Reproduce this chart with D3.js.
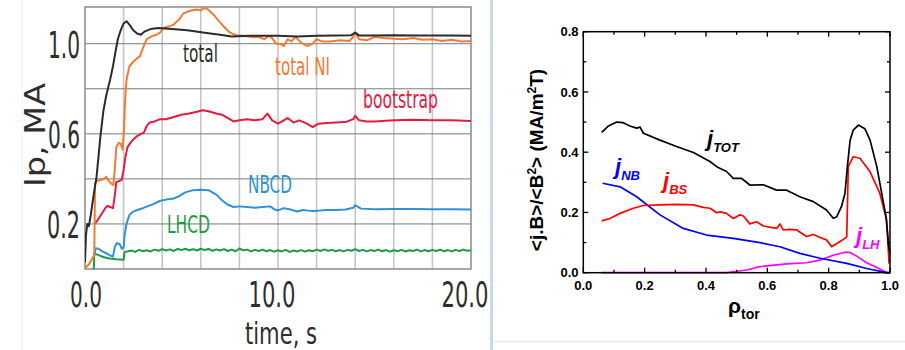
<!DOCTYPE html>
<html><head><meta charset="utf-8">
<script src="https://cdn.jsdelivr.net/npm/d3@7"></script>
<style>body{margin:0;background:#fff;} svg{display:block}</style>
</head><body>
<svg id="c" width="905" height="350"></svg>
<script>
// ---------- LEFT PANEL DATA (time, s  vs  Ip, MA) ----------
const leftXTicks = [0, 10, 20];
const leftYTicks = [0.2, 0.6, 1.0];
const leftXGrid = [2, 4, 6, 8, 10, 12, 14, 16, 18];
const leftYGrid = [0.2, 0.4, 0.6, 0.8, 1.0];
const leftLabels = ["total", "total NI", "bootstrap", "NBCD", "LHCD"];

const totalT = [0,0.05,0.12,0.2,0.3,0.45,0.6,0.8,0.95,1.1,1.3,1.45,1.55,1.7,1.85,2.0,2.15,2.3,2.5,2.7,2.9,3.1,3.4,3.8,4.5,5.3,6.3,7.0,7.6,8.5,10,11,12,13,13.8,14.0,14.2,15,16,17,18,19,20];
const totalV = [0.03,0.15,0.2,0.19,0.24,0.33,0.41,0.59,0.70,0.77,0.84,0.90,0.95,1.02,1.06,1.09,1.10,1.085,1.06,1.045,1.04,1.055,1.065,1.07,1.065,1.06,1.048,1.04,1.032,1.035,1.035,1.032,1.035,1.036,1.038,1.05,1.037,1.036,1.038,1.037,1.036,1.036,1.035];

const niT = [0,0.2,0.4,0.48,0.52,0.6,0.8,1.0,1.1,1.2,1.35,1.47,1.55,1.62,1.75,1.85,1.95,2.02,2.08,2.15,2.3,2.5,2.7,2.85,3.0,3.2,3.5,3.7,3.9,4.05,4.3,4.6,4.9,5.1,5.4,5.8,6.0,6.2,6.4,6.65,6.9,7.2,7.5,7.8,8.2,8.6,9.0,9.3,9.5,9.7,9.9,10.1,10.3,10.5,10.7,10.9,11.2,11.5,11.8,12.0,12.3,12.7,13.2,13.7,13.9,14.0,14.2,14.6,15,15.5,16,16.5,17,17.5,18,18.5,19,19.5,20];
const niV = [0.005,0.02,0.05,0.06,0.38,0.39,0.395,0.40,0.41,0.395,0.38,0.372,0.45,0.54,0.56,0.555,0.53,0.62,0.75,0.84,0.90,0.92,0.935,0.945,0.98,1.02,1.035,1.04,1.05,1.07,1.075,1.085,1.11,1.135,1.145,1.152,1.148,1.16,1.15,1.13,1.105,1.075,1.05,1.038,1.035,1.03,1.03,1.02,1.035,1.025,1.0,1.0,0.99,1.02,1.01,1.03,1.005,0.99,1.0,1.02,1.01,1.01,1.015,1.012,1.03,1.05,1.02,1.015,1.03,1.025,1.022,1.02,1.025,1.018,1.02,1.012,1.018,1.01,1.012];

const bsT = [0.5,0.6,0.75,0.9,1.05,1.15,1.3,1.45,1.55,1.62,1.75,1.9,2.0,2.1,2.2,2.35,2.5,2.7,2.9,3.05,3.2,3.35,3.6,3.9,4.2,4.6,5.0,5.4,5.8,6.1,6.4,6.8,7.1,7.4,7.7,8.0,8.4,8.8,9.2,9.45,9.7,10.0,10.3,10.5,10.8,11.1,11.5,11.8,12.1,12.5,13,13.5,13.9,14.0,14.2,14.6,15,16,17,18,19,20];
const bsV = [0.20,0.21,0.23,0.25,0.27,0.28,0.275,0.27,0.33,0.385,0.39,0.395,0.44,0.50,0.54,0.56,0.575,0.59,0.60,0.605,0.635,0.65,0.655,0.665,0.665,0.675,0.685,0.69,0.698,0.705,0.70,0.69,0.685,0.67,0.655,0.66,0.665,0.66,0.665,0.69,0.66,0.645,0.66,0.67,0.65,0.66,0.645,0.63,0.645,0.648,0.65,0.652,0.665,0.68,0.66,0.655,0.655,0.66,0.662,0.66,0.66,0.657];

const nbT = [0.5,0.55,0.7,0.9,1.1,1.3,1.45,1.55,1.65,1.8,1.9,2.0,2.05,2.15,2.3,2.5,2.7,3.0,3.3,3.6,3.9,4.2,4.6,4.9,5.2,5.6,6.0,6.4,6.8,7.1,7.4,7.7,8.0,8.4,8.8,9.2,9.6,9.8,10.0,10.3,10.6,11.0,11.3,11.7,12.0,12.5,13,13.5,13.9,14.0,14.3,15,16,17,18,19,20];
const nbV = [0.06,0.092,0.09,0.078,0.07,0.06,0.055,0.10,0.115,0.11,0.09,0.095,0.15,0.20,0.24,0.255,0.262,0.27,0.28,0.29,0.303,0.308,0.313,0.325,0.34,0.35,0.352,0.35,0.33,0.305,0.285,0.275,0.278,0.275,0.272,0.275,0.278,0.265,0.26,0.27,0.265,0.255,0.262,0.258,0.258,0.262,0.262,0.264,0.272,0.283,0.268,0.265,0.266,0.266,0.265,0.265,0.264];

const lhT = [0.4,0.46,0.48,0.6,0.8,1.0,1.2,1.4,1.6,1.8,2.0,2.05,2.2,2.4,2.6,2.8,3.0,3.2,3.4,3.6,3.8,4.0,4.2,4.4,4.6,4.8,5.0,5.2,5.4,5.6,5.8,6.0,6.2,6.4,6.6,6.8,7.0,7.2,7.4,7.6,7.8,8.0,8.2,8.4,8.6,8.8,9.0,9.2,9.4,9.6,9.8,10.0,10.2,10.4,10.6,10.8,11.0,11.2,11.4,11.6,11.8,12.0,12.2,12.4,12.6,12.8,13.0,13.2,13.4,13.6,13.8,14.0,14.2,14.4,14.6,14.8,15.0,15.2,15.4,15.6,15.8,16.0,16.2,16.4,16.6,16.8,17.0,17.2,17.4,17.6,17.8,18.0,18.2,18.4,18.6,18.8,19.0,19.2,19.4,19.6,19.8,20.0];
const lhV = [0.0,0.0,0.07,0.065,0.058,0.052,0.048,0.045,0.043,0.042,0.041,0.075,0.078,0.082,0.076,0.085,0.079,0.083,0.078,0.086,0.081,0.088,0.082,0.087,0.080,0.089,0.084,0.09,0.083,0.088,0.082,0.09,0.084,0.089,0.081,0.087,0.082,0.088,0.080,0.086,0.079,0.091,0.083,0.086,0.078,0.085,0.08,0.086,0.079,0.084,0.077,0.083,0.078,0.085,0.076,0.082,0.078,0.084,0.077,0.083,0.079,0.086,0.08,0.087,0.081,0.085,0.079,0.084,0.078,0.085,0.081,0.088,0.08,0.085,0.078,0.084,0.08,0.086,0.079,0.084,0.077,0.083,0.079,0.085,0.078,0.083,0.08,0.086,0.078,0.084,0.079,0.085,0.08,0.086,0.079,0.084,0.078,0.085,0.08,0.086,0.081,0.083];

// ---------- RIGHT PANEL DATA (rho_tor vs <j.B>/<B^2>) ----------
const rightXTicks = [0, 0.2, 0.4, 0.6, 0.8, 1.0];
const rightYTicks = [0, 0.2, 0.4, 0.6, 0.8];
const rightXMinor = [0.1, 0.3, 0.5, 0.7, 0.9];
const rightYMinor = [0.1, 0.3, 0.5, 0.7];

const totRho = [0.06,0.082,0.109,0.13,0.152,0.174,0.185,0.196,0.25,0.304,0.359,0.413,0.435,0.467,0.489,0.516,0.543,0.587,0.63,0.663,0.706,0.75,0.793,0.815,0.826,0.842,0.853,0.861,0.87,0.88,0.897,0.918,0.935,0.957,0.973,0.987,0.995,1.0];
const totVal = [0.466,0.487,0.5,0.498,0.487,0.48,0.483,0.463,0.44,0.419,0.399,0.369,0.352,0.336,0.313,0.313,0.291,0.292,0.274,0.274,0.252,0.236,0.208,0.181,0.185,0.22,0.263,0.352,0.44,0.473,0.49,0.478,0.44,0.352,0.263,0.186,0.097,0.06];

const bsRho = [0.06,0.087,0.12,0.163,0.196,0.25,0.304,0.359,0.391,0.413,0.435,0.446,0.467,0.489,0.511,0.522,0.543,0.565,0.587,0.63,0.641,0.652,0.674,0.696,0.728,0.75,0.772,0.793,0.81,0.832,0.853,0.859,0.864,0.88,0.902,0.935,0.967,0.989,0.997];
const bsVal = [0.172,0.18,0.197,0.214,0.223,0.225,0.227,0.225,0.217,0.214,0.199,0.202,0.197,0.18,0.192,0.188,0.162,0.169,0.155,0.147,0.162,0.142,0.144,0.142,0.12,0.127,0.117,0.109,0.086,0.1,0.114,0.12,0.352,0.385,0.38,0.335,0.263,0.175,0.03];

const nbRho = [0.063,0.12,0.174,0.25,0.326,0.402,0.489,0.576,0.641,0.706,0.772,0.859,0.924,0.989,1.0];
const nbVal = [0.297,0.285,0.252,0.192,0.147,0.125,0.114,0.1,0.086,0.064,0.048,0.031,0.014,0.0,0.0];

const lhRho = [0.06,0.467,0.533,0.576,0.663,0.728,0.772,0.815,0.853,0.87,0.891,0.924,0.957,0.984,0.995,1.0];
const lhVal = [0.0,0.0,0.009,0.02,0.029,0.033,0.042,0.058,0.068,0.067,0.055,0.033,0.017,0.003,0.0,0.0];

// ---------- DRAW ----------
const svg = d3.select("#c");
svg.append("rect").attr("width",905).attr("height",350).attr("fill","#fff");

// decorations (panel separators)
svg.append("line").attr("x1",22).attr("x2",22).attr("y1",0).attr("y2",350).attr("stroke","#f0f0f0").attr("stroke-width",1);
svg.append("line").attr("x1",491.5).attr("x2",491.5).attr("y1",0).attr("y2",350).attr("stroke","#c9d8ea").attr("stroke-width",3);
svg.append("line").attr("x1",494).attr("x2",905).attr("y1",341.5).attr("y2",341.5).attr("stroke","#dde7f1").attr("stroke-width",1.5);

// ===== LEFT =====
const xL = d3.scaleLinear().domain([0,20]).range([85,471]);
const yL = d3.scaleLinear().domain([0,1.163]).range([269,7]);
const condFont = "'Liberation Sans Narrow','DejaVu Sans Condensed','Open Sans',sans-serif";

const gL = svg.append("g");
gL.selectAll(".vg").data(leftXGrid).join("line")
  .attr("x1",d=>xL(d)).attr("x2",d=>xL(d)).attr("y1",yL.range()[1]).attr("y2",yL.range()[0])
  .attr("stroke","#c6c6c6").attr("stroke-width",1.6);
gL.selectAll(".hg").data(leftYGrid).join("line")
  .attr("x1",xL.range()[0]).attr("x2",xL.range()[1]).attr("y1",d=>yL(d)).attr("y2",d=>yL(d))
  .attr("stroke","#7a7a7a").attr("stroke-width",1);
gL.append("rect").attr("x",85).attr("y",7).attr("width",386).attr("height",262)
  .attr("fill","none").attr("stroke","#8a8a8a").attr("stroke-width",1.5);

svg.append("clipPath").attr("id","clipL").append("rect").attr("x",85).attr("y",5).attr("width",386).attr("height",264.5);

const leftSeries = [
  {t: lhT, v: lhV, c: "#1e9a48"},
  {t: nbT, v: nbV, c: "#2f92d6"},
  {t: bsT, v: bsV, c: "#e8193f"},
  {t: niT, v: niV, c: "#f47a33"},
  {t: totalT, v: totalV, c: "#2b2b2b"}
];
const lineL = d3.line().x(d=>xL(d[0])).y(d=>yL(d[1]));
gL.selectAll(".ls").data(leftSeries).join("path")
  .attr("clip-path","url(#clipL)")
  .attr("d", s => lineL(s.t.map((t,i)=>[t, s.v[i]])))
  .attr("fill","none").attr("stroke",s=>s.c).attr("stroke-width",2).attr("stroke-linejoin","round");

// left tick labels
const yLabW = {0.2:33, 0.6:32, 1.0:32};
gL.selectAll(".yt").data(leftYTicks).join("text")
  .attr("x",80).attr("y",d=>yL(d)+14).attr("text-anchor","end")
  .attr("font-family",condFont).attr("font-size",37).attr("fill","#2e2e2e")
  .attr("textLength",d=>yLabW[d]).attr("lengthAdjust","spacingAndGlyphs")
  .text(d=>d.toFixed(1));
gL.selectAll(".xt").data(leftXTicks).join("text")
  .attr("x",d=>xL(d) + (d===0 ? 1 : -6)).attr("y",307).attr("text-anchor","middle")
  .attr("font-family",condFont).attr("font-size",36).attr("fill","#2e2e2e")
  .attr("textLength",d=>d===0?32:47).attr("lengthAdjust","spacingAndGlyphs")
  .text(d=>d.toFixed(1));

gL.append("text").attr("transform","translate(45,135) rotate(-90)").attr("text-anchor","middle")
  .attr("font-family",condFont).attr("font-size",29).attr("fill","#2e2e2e")
  .attr("textLength",104).attr("lengthAdjust","spacingAndGlyphs").text("Ip, MA");
gL.append("text").attr("x",281).attr("y",344).attr("text-anchor","middle")
  .attr("font-family",condFont).attr("font-size",30).attr("fill","#2e2e2e")
  .attr("textLength",72).attr("lengthAdjust","spacingAndGlyphs").text("time, s");

// line labels
const leftLabelStyle = [
  {x:183, y:62, w:35, c:"#2b2b2b"},
  {x:275, y:75, w:55, c:"#f47a33"},
  {x:363, y:108, w:75, c:"#e8193f"},
  {x:248, y:193, w:44, c:"#2f92d6"},
  {x:167, y:233, w:43, c:"#1e9a48"}
];
gL.selectAll(".ll").data(leftLabels).join("text")
  .attr("x",(d,i)=>leftLabelStyle[i].x).attr("y",(d,i)=>leftLabelStyle[i].y)
  .attr("font-family",condFont).attr("font-size",24).attr("fill",(d,i)=>leftLabelStyle[i].c)
  .attr("textLength",(d,i)=>leftLabelStyle[i].w).attr("lengthAdjust","spacingAndGlyphs")
  .text(d=>d);

// ===== RIGHT =====
const xR = d3.scaleLinear().domain([0,1]).range([583.3,890]);
const yR = d3.scaleLinear().domain([0,0.8]).range([272.7,31.7]);
const fR = "'Liberation Sans',Arial,Helvetica,sans-serif";
const gR = svg.append("g");

const lineR = d3.line().x(d=>xR(d[0])).y(d=>yR(d[1]));
const rightSeries = [
  {r: lhRho, v: lhVal, c:"#ff00ff"},
  {r: nbRho, v: nbVal, c:"#0000ff"},
  {r: bsRho, v: bsVal, c:"#ff0000"},
  {r: totRho, v: totVal, c:"#000000"}
];
gR.selectAll(".rs").data(rightSeries).join("path")
  .attr("d", s => lineR(s.r.map((r,i)=>[r, s.v[i]])))
  .attr("fill","none").attr("stroke",s=>s.c).attr("stroke-width",1.7).attr("stroke-linejoin","round");

gR.append("rect").attr("x",xR(0)).attr("y",yR(0.8)).attr("width",xR(1)-xR(0)).attr("height",yR(0)-yR(0.8))
  .attr("fill","none").attr("stroke","#000").attr("stroke-width",1.5);

// ticks inward on all sides
const tickG = gR.append("g").attr("stroke","#000").attr("stroke-width",1.3);
[[rightXTicks,5],[rightXMinor,3]].forEach(([arr,len])=>{
  tickG.selectAll(null).data(arr).join("line").attr("x1",d=>xR(d)).attr("x2",d=>xR(d)).attr("y1",yR(0)).attr("y2",yR(0)-len);
  tickG.selectAll(null).data(arr).join("line").attr("x1",d=>xR(d)).attr("x2",d=>xR(d)).attr("y1",yR(0.8)).attr("y2",yR(0.8)+len);
});
[[rightYTicks,5],[rightYMinor,3]].forEach(([arr,len])=>{
  tickG.selectAll(null).data(arr).join("line").attr("y1",d=>yR(d)).attr("y2",d=>yR(d)).attr("x1",xR(0)).attr("x2",xR(0)+len);
  tickG.selectAll(null).data(arr).join("line").attr("y1",d=>yR(d)).attr("y2",d=>yR(d)).attr("x1",xR(1)).attr("x2",xR(1)-len);
});

gR.selectAll(".rxt").data(rightXTicks).join("text")
  .attr("x",d=>xR(d)).attr("y",290).attr("text-anchor","middle")
  .attr("font-family",fR).attr("font-weight","bold").attr("font-size",13).attr("fill","#000")
  .text(d=>d.toFixed(1));
gR.selectAll(".ryt").data(rightYTicks).join("text")
  .attr("x",578.5).attr("y",d=>yR(d)+4.6).attr("text-anchor","end")
  .attr("font-family",fR).attr("font-weight","bold").attr("font-size",13).attr("fill","#000")
  .text(d=>d.toFixed(1));

// y title
const yt = gR.append("text").attr("transform","translate(543,160) rotate(-90)").attr("text-anchor","middle")
  .attr("font-family",fR).attr("font-weight","bold").attr("font-size",19).attr("fill","#000");
yt.append("tspan").text("<j.B>/<B");
yt.append("tspan").attr("dy",-7).attr("font-size",12).text("2");
yt.append("tspan").attr("dy",7).text("> (MA/m");
yt.append("tspan").attr("dy",-7).attr("font-size",12).text("2");
yt.append("tspan").attr("dy",7).text("T)");

// x title
const xt = gR.append("text").attr("x",728).attr("y",313)
  .attr("font-family",fR).attr("font-weight","bold").attr("font-size",21).attr("fill","#000");
xt.append("tspan").text("ρ");
xt.append("tspan").attr("dy",6).attr("font-size",14).text("tor");

// curve labels
const curveLabels = [
  {sub:"TOT", x:707, y:146, c:"#000000"},
  {sub:"NB", x:615, y:174, c:"#0000ff"},
  {sub:"BS", x:663, y:187.5, c:"#ff0000"},
  {sub:"LH", x:856, y:242.5, c:"#ff00ff"}
];
curveLabels.forEach(l=>{
  const t = gR.append("text").attr("x",l.x).attr("y",l.y)
    .attr("font-family",fR).attr("font-weight","bold").attr("font-style","italic")
    .attr("font-size",22).attr("fill",l.c);
  t.append("tspan").text("j");
  t.append("tspan").attr("dy",6).attr("font-size",13).text(l.sub);
});
</script>
</body></html>
